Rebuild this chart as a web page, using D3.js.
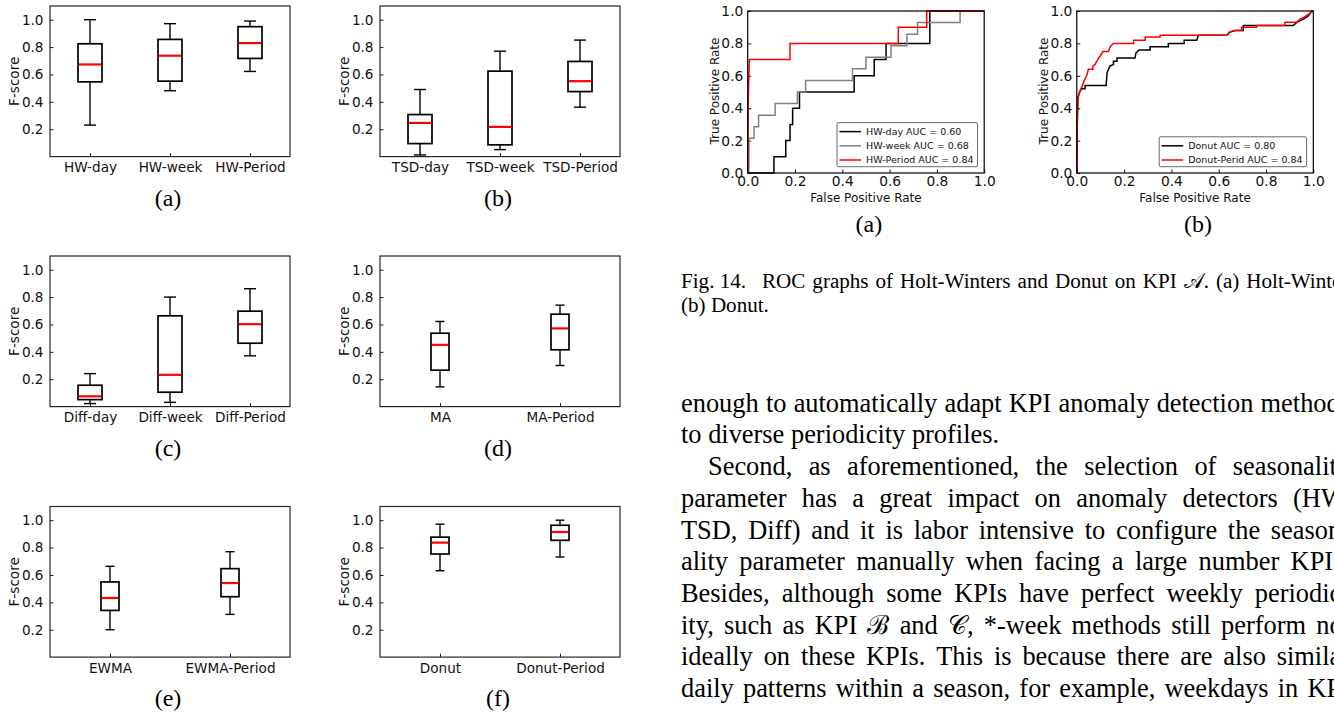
<!DOCTYPE html>
<html>
<head>
<meta charset="utf-8">
<script src="https://cdn.jsdelivr.net/npm/d3@7/dist/d3.min.js"></script>
<style>
  html, body { margin: 0; padding: 0; background: #ffffff; overflow: hidden; }
  svg { display: block; }
</style>
</head>
<body>
<svg id="page" width="1334" height="713"></svg>
<script>
// ---------- F-score box statistics: [lower whisker, Q1, median, Q3, upper whisker] ----------
const hwCategories = ["HW-day", "HW-week", "HW-Period"];
const hwStats = [
  [0.23, 0.546, 0.673, 0.824, 1.0],
  [0.481, 0.551, 0.737, 0.856, 0.971],
  [0.622, 0.717, 0.829, 0.949, 0.99]
];
const tsdCategories = ["TSD-day", "TSD-week", "TSD-Period"];
const tsdStats = [
  [0.012, 0.095, 0.246, 0.307, 0.49],
  [0.051, 0.086, 0.217, 0.624, 0.77],
  [0.361, 0.475, 0.551, 0.695, 0.851]
];
const diffCategories = ["Diff-day", "Diff-week", "Diff-Period"];
const diffStats = [
  [0.022, 0.051, 0.075, 0.156, 0.241],
  [0.031, 0.105, 0.232, 0.663, 0.8],
  [0.371, 0.463, 0.602, 0.697, 0.861]
];
const maCategories = ["MA", "MA-Period"];
const maStats = [
  [0.144, 0.266, 0.451, 0.536, 0.622],
  [0.3, 0.415, 0.571, 0.675, 0.741]
];
const ewmaCategories = ["EWMA", "EWMA-Period"];
const ewmaStats = [
  [0.2, 0.341, 0.432, 0.549, 0.663],
  [0.312, 0.441, 0.541, 0.646, 0.77]
];
const donutCategories = ["Donut", "Donut-Period"];
const donutStats = [
  [0.631, 0.753, 0.836, 0.876, 0.971],
  [0.731, 0.853, 0.914, 0.963, 1.0]
];
const fscoreTicks = [0.2, 0.4, 0.6, 0.8, 1.0];

// ---------- ROC curves on KPI A ----------
const rocTicks = [0, 0.2, 0.4, 0.6, 0.8, 1.0];

const hwDayFpr = [0, 0.111, 0.111, 0.161, 0.161, 0.179, 0.179, 0.19, 0.19, 0.219, 0.219, 0.45, 0.45, 0.535, 0.535, 0.585, 0.585, 0.77, 0.77, 1];
const hwDayTpr = [0, 0, 0.1, 0.1, 0.2, 0.2, 0.3, 0.3, 0.4, 0.4, 0.5, 0.5, 0.6, 0.6, 0.7, 0.7, 0.8, 0.8, 1, 1];

const hwWeekFpr = [0, 0.005, 0.005, 0.027, 0.027, 0.046, 0.046, 0.116, 0.116, 0.21, 0.21, 0.245, 0.245, 0.443, 0.443, 0.5, 0.5, 0.606, 0.606, 0.673, 0.673, 0.718, 0.718, 0.898, 0.898, 1];
const hwWeekTpr = [0, 0, 0.214, 0.214, 0.286, 0.286, 0.357, 0.357, 0.429, 0.429, 0.5, 0.5, 0.571, 0.571, 0.643, 0.643, 0.714, 0.714, 0.786, 0.786, 0.857, 0.857, 0.929, 0.929, 1, 1];

const hwPeriodFpr = [0, 0.003, 0.007, 0.179, 0.179, 0.637, 0.637, 0.757, 0.757, 1];
const hwPeriodTpr = [0, 0.5, 0.7, 0.7, 0.8, 0.8, 0.9, 0.9, 1, 1];

const donutFpr = [0, 0.002, 0.005, 0.012, 0.02, 0.035, 0.035, 0.124, 0.128, 0.14, 0.155, 0.155, 0.17, 0.17, 0.246, 0.25, 0.263, 0.31, 0.31, 0.387, 0.387, 0.454, 0.454, 0.507, 0.514, 0.634, 0.648, 0.67, 0.704, 0.704, 0.915, 0.93, 0.958, 0.979, 0.993, 1];
const donutTpr = [0, 0.3, 0.47, 0.5, 0.52, 0.52, 0.54, 0.54, 0.62, 0.66, 0.67, 0.69, 0.69, 0.71, 0.71, 0.74, 0.76, 0.76, 0.78, 0.78, 0.8, 0.8, 0.82, 0.82, 0.85, 0.85, 0.87, 0.88, 0.88, 0.91, 0.91, 0.93, 0.95, 0.97, 1.0, 1];

const donutPeriodFpr = [0, 0.002, 0.004, 0.011, 0.021, 0.031, 0.042, 0.049, 0.068, 0.068, 0.077, 0.085, 0.092, 0.103, 0.11, 0.134, 0.141, 0.155, 0.24, 0.24, 0.289, 0.289, 0.352, 0.352, 0.634, 0.644, 0.665, 0.697, 0.697, 0.76, 0.76, 0.88, 0.88, 0.93, 0.944, 0.96, 0.98, 0.99, 1];
const donutPeriodTpr = [0, 0.35, 0.45, 0.5, 0.53, 0.57, 0.6, 0.64, 0.64, 0.66, 0.67, 0.69, 0.71, 0.73, 0.75, 0.75, 0.78, 0.8, 0.8, 0.82, 0.82, 0.84, 0.84, 0.85, 0.85, 0.87, 0.88, 0.88, 0.9, 0.9, 0.91, 0.91, 0.93, 0.93, 0.95, 0.96, 0.98, 0.99, 1];

const hwRocNames = ["HW-day", "HW-week", "HW-Period"];
const hwRocAuc = [0.60, 0.68, 0.84];
const donutRocNames = ["Donut", "Donut-Perid"];
const donutRocAuc = [0.80, 0.84];

// ---------- Caption and running text of the column ----------
const captionLines = [
  ["Fig. 14.", "ROC graphs of Holt-Winters and Donut on KPI \u{1D49C}. (a) Holt-Winters."],
  ["(b) Donut."]
];
const bodyLines = [
  { text: "enough to automatically adapt KPI anomaly detection methods", justify: true, indent: 0 },
  { text: "to diverse periodicity profiles.", justify: false, indent: 0 },
  { text: "Second, as aforementioned, the selection of seasonality", justify: true, indent: 27 },
  { text: "parameter has a great impact on anomaly detectors (HW,", justify: true, indent: 0 },
  { text: "TSD, Diff) and it is labor intensive to configure the season-", justify: true, indent: 0 },
  { text: "ality parameter manually when facing a large number KPIs.", justify: true, indent: 0 },
  { text: "Besides, although some KPIs have perfect weekly periodic-", justify: true, indent: 0 },
  { text: "ity, such as KPI \u212C and \u{1D49E}, *-week methods still perform not", justify: true, indent: 0 },
  { text: "ideally on these KPIs. This is because there are also similar", justify: true, indent: 0 },
  { text: "daily patterns within a season, for example, weekdays in KPI", justify: true, indent: 0 }
];

// ======================================================================
const svg = d3.select("#page");
svg.append("rect").attr("width", 1334).attr("height", 713).attr("fill", "#ffffff");

const SANS = "'DejaVu Sans', 'Bitstream Vera Sans', sans-serif";
const SERIF = "'Liberation Serif', 'Times New Roman', Times, serif";
const f1 = d3.format(".1f");

function styleAxis(sel, size) {
  sel.attr("font-family", SANS).attr("font-size", size);
  sel.select(".domain").remove();
  sel.selectAll(".tick line").attr("stroke", "#000").attr("stroke-width", 0.9);
  sel.selectAll(".tick text").attr("fill", "#111");
}

// ---------- box plot panel ----------
function boxPanel(px, py, cats, stats, tag) {
  const W = 240, H = 150.6;
  const n = cats.length;
  const g = svg.append("g").attr("transform", `translate(${px},${py})`);
  const x = d3.scaleLinear().domain([0.5, n + 0.5]).range([0, W]);
  const y = d3.scaleLinear().domain([0, 1.1]).range([H, 0]);
  const relW = n > 2 ? 0.3 : 0.15;
  const half = x(1 + relW / 2) - x(1);
  const cap = half / 2;

  g.append("g").call(
    d3.axisLeft(y).tickValues(fscoreTicks).tickFormat(f1).tickSizeInner(-3.5).tickSizeOuter(0).tickPadding(6.5)
  ).call(a => styleAxis(a, 13.6));

  g.append("g").attr("transform", `translate(0,${H})`).call(
    d3.axisBottom(x).tickValues(d3.range(1, n + 1)).tickFormat((d, i) => cats[i])
      .tickSizeInner(-3.5).tickSizeOuter(0).tickPadding(5.8)
  ).call(a => styleAxis(a, 13.6));

  const items = g.selectAll("g.box").data(stats).join("g").attr("class", "box")
    .attr("stroke", "#000").attr("stroke-width", 1.4).attr("fill", "none");
  items.each(function (s, i) {
    const b = d3.select(this);
    const cx = x(i + 1);
    b.append("line").attr("x1", cx).attr("x2", cx).attr("y1", y(s[3])).attr("y2", y(s[4]));
    b.append("line").attr("x1", cx).attr("x2", cx).attr("y1", y(s[1])).attr("y2", y(s[0]));
    b.append("line").attr("x1", cx - cap).attr("x2", cx + cap).attr("y1", y(s[4])).attr("y2", y(s[4]));
    b.append("line").attr("x1", cx - cap).attr("x2", cx + cap).attr("y1", y(s[0])).attr("y2", y(s[0]));
    b.append("rect").attr("x", cx - half).attr("y", y(s[3]))
      .attr("width", 2 * half).attr("height", y(s[1]) - y(s[3])).attr("stroke-width", 1.7);
    b.append("line").attr("x1", cx - half + 0.8).attr("x2", cx + half - 0.8)
      .attr("y1", y(s[2])).attr("y2", y(s[2])).attr("stroke", "#ff0000").attr("stroke-width", 2.2);
  });

  g.append("rect").attr("width", W).attr("height", H)
    .attr("fill", "none").attr("stroke", "#262626").attr("stroke-width", 1.2);

  g.append("text").attr("transform", `translate(-31,${H / 2}) rotate(-90)`)
    .attr("text-anchor", "middle").attr("font-family", SANS).attr("font-size", 13.6)
    .attr("fill", "#111").text("F-score");

  g.append("text").attr("x", W / 2 - 2).attr("y", 199.5)
    .attr("text-anchor", "middle").attr("font-family", SERIF).attr("font-size", 24)
    .attr("fill", "#000").text(tag);
}

boxPanel(50, 6, hwCategories, hwStats, "(a)");
boxPanel(380, 6, tsdCategories, tsdStats, "(b)");
boxPanel(50, 256, diffCategories, diffStats, "(c)");
boxPanel(380, 256, maCategories, maStats, "(d)");
boxPanel(50, 506.5, ewmaCategories, ewmaStats, "(e)");
boxPanel(380, 506.5, donutCategories, donutStats, "(f)");

// ---------- ROC panel ----------
function rocPanel(px, py, curves, tag) {
  const W = 236.5, H = 162;
  const g = svg.append("g").attr("transform", `translate(${px},${py})`);
  const x = d3.scaleLinear().domain([0, 1]).range([0, W]);
  const y = d3.scaleLinear().domain([0, 1]).range([H, 0]);

  g.append("g").call(
    d3.axisLeft(y).tickValues(rocTicks).tickFormat(f1).tickSizeInner(-3.5).tickSizeOuter(0).tickPadding(4.4)
  ).call(a => styleAxis(a, 13.8));
  g.append("g").attr("transform", `translate(0,${H})`).call(
    d3.axisBottom(x).tickValues(rocTicks).tickFormat(f1).tickSizeInner(-3.5).tickSizeOuter(0).tickPadding(3.6)
  ).call(a => styleAxis(a, 13.8));

  const line = d3.line().x(d => x(d[0])).y(d => y(d[1]));
  curves.forEach(c => {
    const pts = c.fpr.map((f, i) => [f, c.tpr[i]]);
    g.append("path").datum(pts).attr("d", line)
      .attr("fill", "none").attr("stroke", c.color).attr("stroke-width", 1.5)
      .attr("stroke-linejoin", "miter");
  });

  g.append("rect").attr("width", W).attr("height", H)
    .attr("fill", "none").attr("stroke", "#000").attr("stroke-width", 1.2);

  // legend, lower right
  const rowH = 14.2;
  const lg = g.append("g");
  const box = lg.append("rect").attr("fill", "#fff").attr("stroke", "#444")
    .attr("stroke-width", 0.8).attr("rx", 1.5);
  const texts = curves.map((c, i) =>
    lg.append("text").attr("font-family", SANS).attr("font-size", 9.5).attr("fill", "#111")
      .attr("dy", "0.35em").text(c.label));
  const tw = d3.max(texts, t => t.node().getComputedTextLength());
  const bw = 29 + tw + 4;
  const bx = W - 6.7 - bw;
  const lastY = H - 13;
  const firstY = lastY - rowH * (curves.length - 1);
  box.attr("x", bx).attr("y", firstY - 9).attr("width", bw).attr("height", lastY - firstY + 15.7);
  curves.forEach((c, i) => {
    const ry = firstY + i * rowH;
    lg.append("line").attr("x1", bx + 2.4).attr("x2", bx + 24).attr("y1", ry).attr("y2", ry)
      .attr("stroke", c.color).attr("stroke-width", 1.5);
    texts[i].attr("x", bx + 29).attr("y", ry);
  });

  g.append("text").attr("x", W / 2).attr("y", H + 28.5).attr("text-anchor", "middle")
    .attr("font-family", SANS).attr("font-size", 12).attr("fill", "#111").text("False Positive Rate");
  g.append("text").attr("transform", `translate(-29.2,${H / 2 - 1}) rotate(-90)`)
    .attr("text-anchor", "middle").attr("font-family", SANS).attr("font-size", 12)
    .attr("fill", "#111").text("True Positive Rate");

  g.append("text").attr("x", W / 2 + 3).attr("y", 221).attr("text-anchor", "middle")
    .attr("font-family", SERIF).attr("font-size", 24).attr("fill", "#000").text(tag);
}

const aucFmt = d3.format(".2f");
rocPanel(747.7, 11, [
  { fpr: hwDayFpr, tpr: hwDayTpr, color: "#000000", label: `${hwRocNames[0]} AUC = ${aucFmt(hwRocAuc[0])}` },
  { fpr: hwWeekFpr, tpr: hwWeekTpr, color: "#808080", label: `${hwRocNames[1]} AUC = ${aucFmt(hwRocAuc[1])}` },
  { fpr: hwPeriodFpr, tpr: hwPeriodTpr, color: "#ff0000", label: `${hwRocNames[2]} AUC = ${aucFmt(hwRocAuc[2])}` }
], "(a)");
rocPanel(1076.8, 11, [
  { fpr: donutFpr, tpr: donutTpr, color: "#000000", label: `${donutRocNames[0]} AUC = ${aucFmt(donutRocAuc[0])}` },
  { fpr: donutPeriodFpr, tpr: donutPeriodTpr, color: "#ff0000", label: `${donutRocNames[1]} AUC = ${aucFmt(donutRocAuc[1])}` }
], "(b)");

// ---------- justified serif text ----------
function setLine(parent, words, x0, yb, size, right, justify, extraAfterFirst) {
  const nodes = words.map(w => parent.append("text").attr("y", yb)
    .attr("font-family", SERIF).attr("font-size", size).attr("fill", "#000").text(w));
  const widths = nodes.map(n => n.node().getComputedTextLength());
  const total = d3.sum(widths) + (extraAfterFirst || 0);
  const gap = justify && words.length > 1 ? (right - x0 - total) / (words.length - 1) : size * 0.25;
  let cx = x0;
  nodes.forEach((n, i) => {
    n.attr("x", cx);
    cx += widths[i] + gap + (i === 0 ? (extraAfterFirst || 0) : 0);
  });
}

const textG = svg.append("g");
const RIGHT = 1350;
// caption: "Fig. 14." label followed by a wider gap, then the justified caption words
{
  const first = captionLines[0];
  const words = [first[0]].concat(first[1].split(" "));
  setLine(textG, words, 681, 288, 21.1, RIGHT + 12, true, 9);
  setLine(textG, captionLines[1][0].split(" "), 681, 312, 21.1, RIGHT, false);
}
bodyLines.forEach((l, i) => {
  setLine(textG, l.text.split(" "), 681 + l.indent, 411.7 + i * 31.7, 26.4, RIGHT, l.justify);
});
</script>
</body>
</html>
